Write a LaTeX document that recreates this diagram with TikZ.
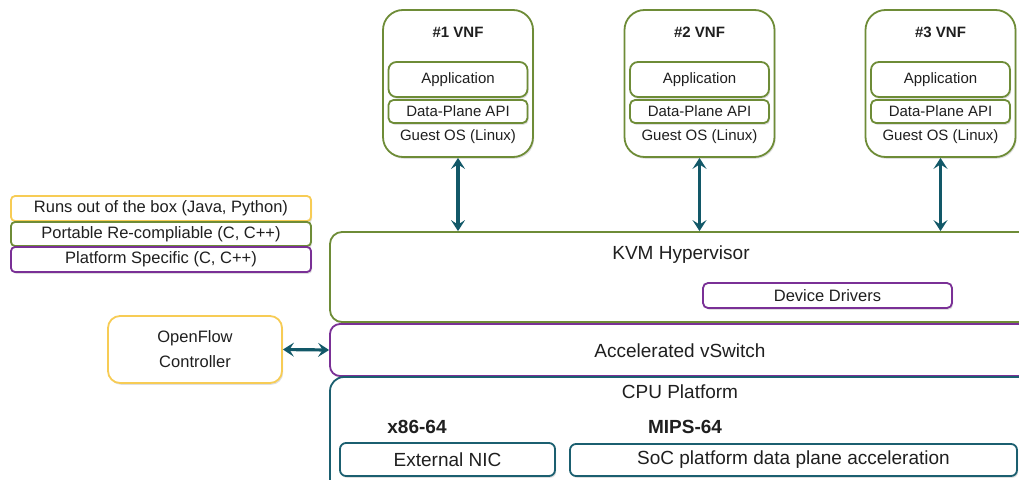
\documentclass[tikz,border=0pt]{standalone}
\usepackage{fontspec}
\setmainfont{Liberation Sans}
\usetikzlibrary{arrows.meta,shadows}
\definecolor{vnfgreen}{RGB}{110,140,55}
\definecolor{drvpurple}{RGB}{122,48,150}
\definecolor{ofyellow}{RGB}{247,204,85}
\definecolor{cputeal}{RGB}{27,95,112}
\definecolor{arrteal}{RGB}{18,88,104}
\def\fsz#1{\fontsize{#1}{#1}\selectfont}
\tikzset{
	box/.style={draw, line width=1.8pt, fill=white, inner sep=0pt, text=black!88,
		drop shadow={opacity=0.25, shadow xshift=1.2pt, shadow yshift=-1.8pt}},
	link/.style={draw=arrteal, line width=3.2pt,
		{Stealth[length=11pt,width=14pt,inset=4.5pt]}-{Stealth[length=11pt,width=14pt,inset=4.5pt]}},
	txt/.style={text=black!88, inner sep=0pt}
}

\begin{document}
\begin{tikzpicture}[x=1pt,y=-1pt]
		%%%%% START %%%%%
		\clip (0,0) rectangle (1019,479);
		
		% legend
		\node[box, draw=ofyellow, rounded corners=4pt, minimum width=300pt, minimum height=25pt, font=\fsz{16.5}] (runs) at (161,208.5) {Runs out of the box (Java, Python)};
		\node[box, draw=vnfgreen, rounded corners=4pt, minimum width=300pt, minimum height=24pt, font=\fsz{16.5}] (portable) at (161,234) {Portable Re-compliable (C, C++)};
		\node[box, draw=drvpurple, rounded corners=4pt, minimum width=300pt, minimum height=25pt, font=\fsz{16.5}] (specific) at (161,259.5) {Platform Specific (C, C++)};
		
		% virtual network functions
		\foreach \i/\cx in {1/458,2/699.5,3/940.5} {
			\node[box, draw=vnfgreen, rounded corners=20pt, minimum width=150pt, minimum height=147pt] (vnf\i) at (\cx,83.5) {};
			\node[txt, font={\fsz{15}\bfseries}] (vnftitle\i) at (\cx,32) {\#\i\ VNF};
			\node[box, draw=vnfgreen, rounded corners=8pt, minimum width=139pt, minimum height=35pt, font=\fsz{15}] (app\i) at (\cx,79.5) {Application};
			\node[box, draw=vnfgreen, rounded corners=5pt, minimum width=139pt, minimum height=23pt, font=\fsz{15}] (api\i) at (\cx,111.5) {Data-Plane API};
			\node[txt, font=\fsz{15}] (guest\i) at (\cx,137) {Guest OS (Linux)};
		}
		
		% hypervisor
		\node[box, draw=vnfgreen, rounded corners=12pt, minimum width=710pt, minimum height=90pt] (kvm) at (685,277) {};
		\node[txt, font=\fsz{19}] (kvmtext) at (681,255) {KVM Hypervisor};
		\node[box, draw=drvpurple, rounded corners=5pt, minimum width=249pt, minimum height=25pt, font=\fsz{16.5}] (drivers) at (827.5,295.5) {Device Drivers};
		
		% vswitch
		\node[box, draw=drvpurple, rounded corners=10pt, minimum width=710pt, minimum height=52pt] (vswitch) at (685,350) {};
		\node[txt, font=\fsz{19}] (vswtext) at (680,351) {Accelerated vSwitch};
		
		% cpu platform
		\node[box, draw=cputeal, rounded corners=14pt, minimum width=710pt, minimum height=123pt] (cpu) at (685,438.5) {};
		\node[txt, font=\fsz{19}] (cputext) at (680,392) {CPU Platform};
		\node[txt, font={\fsz{19}\bfseries}] (x86) at (417,427) {x86-64};
		\node[txt, font={\fsz{19}\bfseries}] (mips) at (685,427) {MIPS-64};
		\node[box, draw=cputeal, rounded corners=6pt, minimum width=215pt, minimum height=33pt, font=\fsz{19}] (nic) at (447.5,459.5) {External NIC};
		\node[box, draw=cputeal, rounded corners=6pt, minimum width=447pt, minimum height=32pt, font=\fsz{19}] (soc) at (793.5,460) {SoC platform data plane acceleration};
		
		% controller
		\node[box, draw=ofyellow, rounded corners=12pt, minimum width=174pt, minimum height=67pt, align=center, font=\fontsize{16.5}{25}\selectfont] (ofc) at (195,349.5) {OpenFlow\\Controller};
		
		% links
		\foreach \i in {1,2,3}
			\draw[link] (vnf\i.south) -- (vnf\i.south |- kvm.north);
		\draw[link] (ofc.east) -- (vswitch.west);
		
		%%%%% END %%%%%
\end{tikzpicture}
\end{document}
